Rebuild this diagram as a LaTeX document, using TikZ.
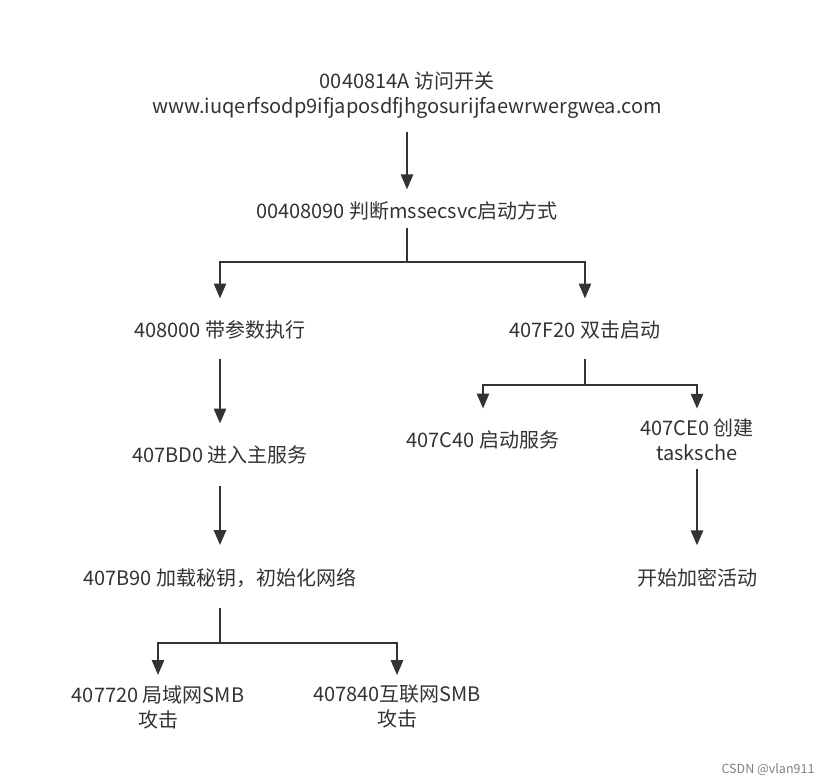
\documentclass[tikz,border=0pt]{standalone}
\usepackage{fontspec}
\setmainfont{Noto Sans CJK SC}
\usetikzlibrary{arrows.meta}
\definecolor{ink}{HTML}{333333}

\begin{document}
\begin{tikzpicture}[x=1pt,y=-1pt,
    lbl/.style={inner sep=0pt,align=center,text=ink,font=\fontsize{20}{25}\selectfont},
    ln/.style={draw=ink,line width=2.6pt},
    arr/.style={ln,-{Triangle[length=15pt,width=12pt]}}]
  \useasboundingbox (0,0) rectangle (831,784);
  % boxes
  \node[lbl] (sw) at (407,95) {0040814A 访问开关\\www.iuqerfsodp9ifjaposdfjhgosurijfaewrwergwea.com};
  \node[lbl] (mode) at (407,211) {00408090 判断mssecsvc启动方式};
  \node[lbl] (args) at (220,330) {408000 带参数执行};
  \node[lbl] (dbl) at (585,330) {407F20 双击启动};
  \node[lbl] (svc) at (220,455) {407BD0 进入主服务};
  \node[lbl] (init) at (220,578) {407B90 加载秘钥，初始化网络};
  \node[lbl] (lan) at (158,707) {407720 局域网SMB\\攻击};
  \node[lbl] (wan) at (397,707) {407840互联网SMB\\攻击};
  \node[lbl] (start) at (483,440) {407C40 启动服务};
  \node[lbl] (task) at (697,440) {407CE0 创建\\tasksche};
  \node[lbl] (enc) at (697,578) {开始加密活动};
  \node[text=gray,font=\fontsize{12.5}{14}\selectfont,inner sep=0pt] (mark) at (768,770) {CSDN @vlan911};
  % split points
  \coordinate (s1) at (407,262);
  \coordinate (s2) at (585,385);
  \coordinate (s3) at (220,643);
  % connectors
  \draw[arr,shorten <=13pt,shorten >=12pt] (sw.south) -- (mode.north);
  \draw[ln,shorten <=7pt] (mode.south) -- (s1);
  \draw[arr,shorten >=22pt] (s1) -| (args.north);
  \draw[arr,shorten >=22pt] (s1) -| (dbl.north);
  \draw[arr,shorten <=20pt,shorten >=22pt] (args.south) -- (svc.north);
  \draw[arr,shorten <=22pt,shorten >=23pt] (svc.south) -- (init.north);
  \draw[ln,shorten <=20pt] (init.south) -- (s3);
  \draw[arr,shorten >=10pt] (s3) -| (lan.north);
  \draw[arr,shorten >=10pt] (s3) -| (wan.north);
  \draw[ln,shorten <=20pt] (dbl.south) -- (s2);
  \draw[arr,shorten >=22pt] (s2) -| (start.north);
  \draw[arr,shorten >=10pt] (s2) -| (task.north);
  \draw[arr,shorten <=8pt,shorten >=23pt] (task.south) -- (enc.north);
\end{tikzpicture}
\end{document}
